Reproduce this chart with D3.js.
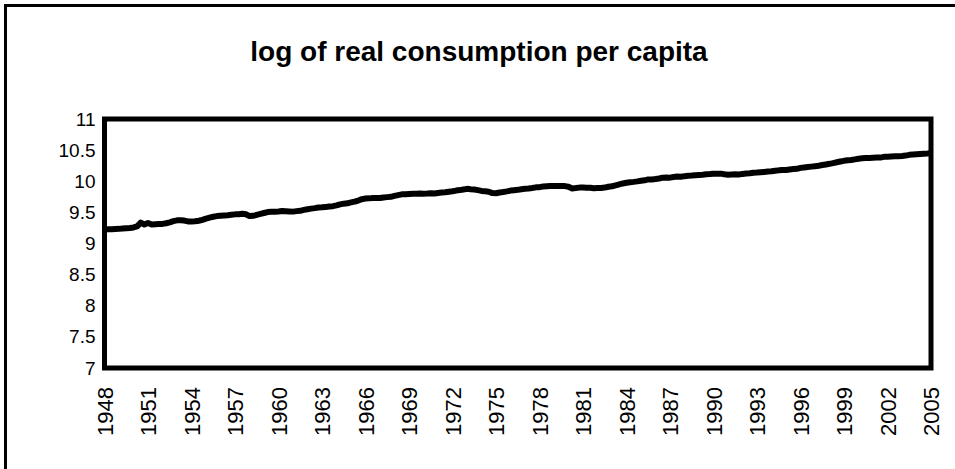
<!DOCTYPE html>
<html><head><meta charset="utf-8">
<script src="https://cdn.jsdelivr.net/npm/d3@7"></script>
<style>
html,body{margin:0;padding:0;background:#fff;}
svg{display:block;}
</style></head>
<body>
<svg id="chart" width="955" height="469"></svg>
<script>
const title = "log of real consumption per capita";
const startYear = 1948;
const yTicks = [7, 7.5, 8, 8.5, 9, 9.5, 10, 10.5, 11];
const xTickLabels = ["1948","1951","1954","1957","1960","1963","1966","1969","1972","1975","1978","1981","1984","1987","1990","1993","1996","1999","2002","2005"];
// quarterly values, 1948Q1 .. 2005Q1
const values = [
9.225, 9.228, 9.230, 9.232,
9.235, 9.240, 9.245, 9.250,
9.258, 9.275, 9.335, 9.305,
9.330, 9.305, 9.310, 9.312,
9.315, 9.325, 9.340, 9.360,
9.372, 9.375, 9.368, 9.355,
9.352, 9.356, 9.365, 9.380,
9.400, 9.415, 9.430, 9.440,
9.445, 9.450, 9.455, 9.462,
9.468, 9.470, 9.478, 9.470,
9.440, 9.445, 9.460, 9.475,
9.490, 9.505, 9.510, 9.512,
9.515, 9.522, 9.518, 9.515,
9.512, 9.520, 9.525, 9.540,
9.550, 9.560, 9.568, 9.578,
9.582, 9.588, 9.595, 9.600,
9.612, 9.628, 9.640, 9.645,
9.660, 9.672, 9.690, 9.712,
9.722, 9.725, 9.730, 9.730,
9.732, 9.740, 9.745, 9.750,
9.765, 9.778, 9.790, 9.790,
9.795, 9.798, 9.800, 9.802,
9.800, 9.803, 9.808, 9.802,
9.812, 9.818, 9.822, 9.832,
9.840, 9.850, 9.858, 9.868,
9.878, 9.872, 9.868, 9.858,
9.845, 9.838, 9.832, 9.810,
9.808, 9.820, 9.828, 9.838,
9.850, 9.856, 9.862, 9.872,
9.880, 9.885, 9.892, 9.902,
9.905, 9.915, 9.920, 9.925,
9.925, 9.922, 9.925, 9.922,
9.912, 9.885, 9.890, 9.898,
9.900, 9.895, 9.897, 9.888,
9.890, 9.892, 9.898, 9.912,
9.920, 9.935, 9.950, 9.965,
9.975, 9.985, 9.990, 9.998,
10.008, 10.015, 10.030, 10.028,
10.035, 10.045, 10.058, 10.060,
10.058, 10.068, 10.075, 10.072,
10.082, 10.088, 10.092, 10.098,
10.102, 10.105, 10.112, 10.115,
10.120, 10.122, 10.122, 10.112,
10.105, 10.110, 10.112, 10.108,
10.118, 10.125, 10.130, 10.138,
10.140, 10.145, 10.150, 10.155,
10.160, 10.168, 10.175, 10.180,
10.182, 10.190, 10.196, 10.200,
10.215, 10.222, 10.228, 10.235,
10.242, 10.250, 10.260, 10.270,
10.280, 10.292, 10.305, 10.318,
10.328, 10.336, 10.342, 10.352,
10.362, 10.368, 10.372, 10.375,
10.377, 10.380, 10.380, 10.392,
10.393, 10.396, 10.400, 10.402,
10.406, 10.412, 10.424, 10.428,
10.432, 10.437, 10.442, 10.446,
10.452
];

const svg = d3.select("#chart");
const plot = {left: 104.5, right: 931, top: 119, bottom: 368};
const font = "'Liberation Sans', Arial, sans-serif";

// outer chart border (extends past right/bottom of picture)
svg.append("rect").attr("x", 5.5).attr("y", 5.5).attr("width", 1000).attr("height", 1000)
  .attr("fill", "#fff").attr("stroke", "#000").attr("stroke-width", 3);

svg.append("text").attr("x", 479).attr("y", 61).attr("text-anchor", "middle")
  .attr("font-family", font).attr("font-weight", "bold").attr("font-size", 28)
  .text(title);

const x = d3.scaleLinear().domain([0, values.length - 1]).range([plot.left, plot.right]);
const y = d3.scaleLinear().domain([7, 11]).range([plot.bottom, plot.top]);

const yAxis = svg.append("g").attr("transform", `translate(${plot.left - 9},0)`)
  .call(d3.axisLeft(y).tickValues(yTicks).tickSize(0).tickPadding(0).tickFormat(d3.format("")));
yAxis.select(".domain").remove();
yAxis.selectAll("text").attr("font-family", font).attr("font-size", 19).attr("fill", "#000");

const xAxis = svg.append("g").attr("transform", `translate(0,${plot.bottom + 19})`)
  .call(d3.axisBottom(x).tickValues(xTickLabels.map((_, i) => i * 12)).tickSize(0)
    .tickFormat((d, i) => xTickLabels[i]));
xAxis.select(".domain").remove();
xAxis.selectAll("text").attr("font-family", font).attr("font-size", 22).attr("fill", "#000")
  .attr("transform", "rotate(-90)").attr("text-anchor", "end").attr("x", 0).attr("y", 0).attr("dy", "0.35em");

const line = d3.line().x((d, i) => x(i)).y(d => y(d));
svg.append("path").datum(values).attr("d", line).attr("fill", "none")
  .attr("stroke", "#000").attr("stroke-width", 6).attr("stroke-linejoin", "round");

svg.append("rect").attr("x", plot.left).attr("y", plot.top)
  .attr("width", plot.right - plot.left).attr("height", plot.bottom - plot.top)
  .attr("fill", "none").attr("stroke", "#000").attr("stroke-width", 5);
</script>
</body></html>
